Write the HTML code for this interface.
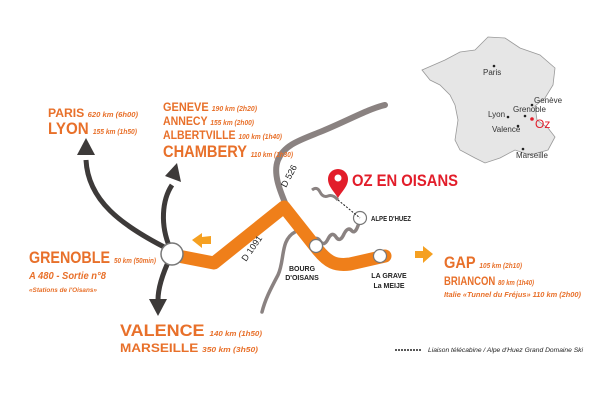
<!DOCTYPE html>
<html><head><meta charset="utf-8"><style>
html,body{margin:0;padding:0;background:#fff}
svg{display:block}
text{font-family:"Liberation Sans",sans-serif}
.o{fill:#e8702a;font-weight:bold}
.oi{fill:#e8702a;font-weight:bold;font-style:italic}
.k{fill:#222;font-weight:bold}
</style></head><body>
<svg width="600" height="401" viewBox="0 0 600 401" xmlns="http://www.w3.org/2000/svg">
<!-- France map -->
<path d="M422,70 L445,60 L460,52 L475,50 L488,37 L505,38 L520,48 L540,55 L555,68 L553,85 L545,98 L535,106 L537,120 L548,128 L555,137 L548,150 L530,155 L515,150 L500,158 L485,163 L475,158 L460,150 L455,140 L458,120 L455,105 L450,95 L440,85 L430,80 Z" fill="#e6e6e6" stroke="#999" stroke-width="0.8"/>
<g fill="#222" font-size="8">
<circle cx="494" cy="66" r="1.3"/><text x="483" y="75" fill="#333">Paris</text>
<circle cx="508" cy="117" r="1.3"/><text x="488" y="117" fill="#333">Lyon</text>
<circle cx="525" cy="116" r="1.3"/><text x="513" y="112" fill="#333">Grenoble</text>
<circle cx="532" cy="105" r="1.3"/><text x="534" y="103" fill="#333">Genève</text>
<circle cx="518" cy="126" r="1.3"/><text x="492" y="132" fill="#333">Valence</text>
<circle cx="523" cy="149" r="1.3"/><text x="516" y="158" fill="#333">Marseille</text>
</g>
<circle cx="532" cy="119" r="1.8" fill="#e21d2a"/>
<text x="535" y="128" font-size="12" fill="#e21d2a">Oz</text>

<!-- grey roads -->
<path d="M288,210 C282,195 272,175 278,160 C284,145 300,140 320,132 C345,122 370,108 385,105" fill="none" stroke="#8a8281" stroke-width="6" stroke-linecap="round"/>
<path d="M295,232 C280,240 285,260 278,275 C270,290 265,300 262,312" fill="none" stroke="#8a8281" stroke-width="3.5" stroke-linecap="round"/>
<path d="M312,243 q4,-8 8,-2 q4,6 8,-2 q4,-8 8,-2 q4,6 8,-3 q4,-8 8,-3 q4,4 8,-12" fill="none" stroke="#8a8281" stroke-width="3.5"/>
<path d="M312,190 q5,-4 8,2 q3,6 8,4 q5,-2 10,4" fill="none" stroke="#8a8281" stroke-width="3"/>
<!-- orange road -->
<path d="M178,256 L214,263 L284,207 L318,250 C328,262 335,266 350,264 L385,256" fill="none" stroke="#ef7f1a" stroke-width="13" stroke-linejoin="round" stroke-linecap="round"/>
<!-- dark arrows -->
<g fill="none" stroke="#3d3a39" stroke-width="5">
<path d="M170,250 C120,225 88,200 86,160"/>
<path d="M170,248 C160,225 162,200 172,185"/>
<path d="M170,258 C162,275 158,290 158,300"/>
</g>
<g fill="#3d3a39">
<polygon points="86,138 77,155 95,155"/>
<polygon points="177,163 165,176 181,182"/>
<polygon points="158,316 149,299 167,299"/>
</g>
<!-- circles -->
<circle cx="172" cy="254" r="11" fill="#fff" stroke="#777" stroke-width="1.5"/>
<circle cx="316" cy="246" r="6.5" fill="#fff" stroke="#777" stroke-width="1.2"/>
<circle cx="380" cy="256" r="6.5" fill="#fff" stroke="#777" stroke-width="1.2"/>
<circle cx="360" cy="218" r="6.5" fill="#fff" stroke="#777" stroke-width="1.2"/>
<line x1="338" y1="200" x2="360" y2="218" stroke="#222" stroke-width="1" stroke-dasharray="2,1.5"/>
<!-- pin -->
<path d="M338,198 C333,190 328,186 328,179 A10,10 0 1 1 348,179 C348,186 343,190 338,198 Z" fill="#e21d2a"/>
<circle cx="338" cy="178" r="3.5" fill="#fff"/>
<!-- orange small arrows -->
<polygon points="192,240 202,233 202,237 211,236 211,244 202,244 202,248" fill="#f5a021"/>
<polygon points="433,254 423,246 423,251 415,251 415,258 423,258 423,263" fill="#f5a021"/>

<!-- texts -->
<text x="48" y="117" font-size="12" class="o" textLength="90" lengthAdjust="spacingAndGlyphs">PARIS <tspan class="oi" font-size="7.5">620 km (6h00)</tspan></text>
<text x="48" y="134" font-size="17" class="o" textLength="89" lengthAdjust="spacingAndGlyphs">LYON <tspan class="oi" font-size="7.5">155 km (1h50)</tspan></text>
<text x="163" y="111" font-size="12" class="o" textLength="94" lengthAdjust="spacingAndGlyphs">GENEVE <tspan class="oi" font-size="7.5">190 km (2h20)</tspan></text>
<text x="163" y="125" font-size="12" class="o" textLength="91" lengthAdjust="spacingAndGlyphs">ANNECY <tspan class="oi" font-size="7.5">155 km (2h00)</tspan></text>
<text x="163" y="139" font-size="12" class="o" textLength="119" lengthAdjust="spacingAndGlyphs">ALBERTVILLE <tspan class="oi" font-size="7.5">100 km (1h40)</tspan></text>
<text x="163" y="157" font-size="17" class="o" textLength="130" lengthAdjust="spacingAndGlyphs">CHAMBERY <tspan class="oi" font-size="7.5">110 km (1h30)</tspan></text>
<text x="29" y="263" font-size="17" class="o" textLength="127" lengthAdjust="spacingAndGlyphs">GRENOBLE <tspan class="oi" font-size="7.5">50 km (50min)</tspan></text>
<text x="29" y="279" font-size="10" class="oi" textLength="77" lengthAdjust="spacingAndGlyphs">A 480 - Sortie n°8</text>
<text x="29" y="292" font-size="6.5" class="oi" textLength="68" lengthAdjust="spacingAndGlyphs">«Stations de l'Oisans»</text>
<text x="120" y="336" font-size="17" class="o" textLength="142" lengthAdjust="spacingAndGlyphs">VALENCE <tspan class="oi" font-size="7.5">140 km (1h50)</tspan></text>
<text x="120" y="352" font-size="12" class="o" textLength="138" lengthAdjust="spacingAndGlyphs">MARSEILLE <tspan class="oi" font-size="7.5">350 km (3h50)</tspan></text>
<text x="444" y="268" font-size="17" class="o" textLength="78" lengthAdjust="spacingAndGlyphs">GAP <tspan class="oi" font-size="7.5">105 km (2h10)</tspan></text>
<text x="444" y="285" font-size="12" class="o" textLength="90" lengthAdjust="spacingAndGlyphs">BRIANCON <tspan class="oi" font-size="7.5">80 km (1h40)</tspan></text>
<text x="444" y="297" font-size="7.5" class="oi" textLength="137" lengthAdjust="spacingAndGlyphs">Italie «Tunnel du Fréjus» 110 km (2h00)</text>
<text x="352" y="186" font-size="17" fill="#e21d2a" font-weight="bold" textLength="106" lengthAdjust="spacingAndGlyphs">OZ EN OISANS</text>
<text x="371" y="221" font-size="7" class="k" textLength="40" lengthAdjust="spacingAndGlyphs">ALPE D'HUEZ</text>
<text x="302" y="271" font-size="7" class="k" text-anchor="middle">BOURG</text>
<text x="302" y="280" font-size="7" class="k" text-anchor="middle">D'OISANS</text>
<text x="389" y="278" font-size="7" class="k" text-anchor="middle">LA GRAVE</text>
<text x="389" y="288" font-size="7" class="k" text-anchor="middle">La MEIJE</text>
<text x="0" y="0" font-size="9" fill="#222" transform="translate(286,188) rotate(-62)">D 526</text>
<text x="0" y="0" font-size="9" fill="#222" transform="translate(246,262) rotate(-55)">D 1091</text>
<line x1="395" y1="350" x2="422" y2="350" stroke="#222" stroke-width="1.5" stroke-dasharray="2,1"/>
<text x="428" y="352" font-size="6.5" font-style="italic" fill="#222" textLength="155" lengthAdjust="spacingAndGlyphs">Liaison télécabine / Alpe d'Huez Grand Domaine Ski</text>
</svg>
</body></html>
